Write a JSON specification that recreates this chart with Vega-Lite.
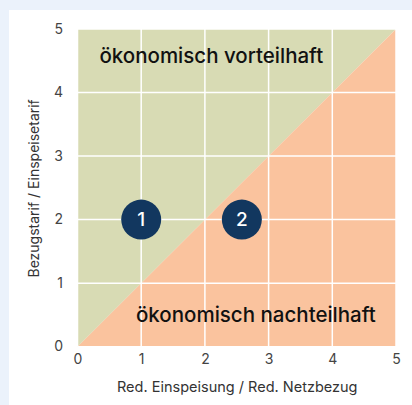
{
  "$schema": "https://vega.github.io/schema/vega-lite/v6.json",
  "autosize": "none",
  "width": 318.5,
  "height": 317.7,
  "padding": {"left": 77.5, "top": 29, "right": 16, "bottom": 58.3},
  "background": "#ebf2fb",
  "config": {"view": {"stroke": null}, "font": "Inter"},
  "datasets": {
    "regions": [
      {"x": 0, "diag": 0, "top": 5, "bottom": 0},
      {"x": 5, "diag": 5, "top": 5, "bottom": 0}
    ],
    "grid": [{"v": 0}, {"v": 1}, {"v": 2}, {"v": 3}, {"v": 4}, {"v": 5}],
    "labels": [
      {"x": 2.1, "y": 4.56, "text": "ökonomisch vorteilhaft"},
      {"x": 2.8, "y": 0.49, "text": "ökonomisch nachteilhaft"}
    ],
    "points": [
      {"x": 1, "y": 2, "id": "1"},
      {"x": 2.58, "y": 2, "id": "2"}
    ],
    "card": [{"x1": -1.075, "x2": 5.3, "y1": -1.0, "y2": 5.3}]
  },
  "layer": [
    {
      "data": {"name": "card"},
      "mark": {"type": "rect", "fill": "white", "clip": false},
      "encoding": {
        "x": {
          "field": "x1", "type": "quantitative",
          "scale": {"domain": [0, 5], "zero": false, "nice": false},
          "axis": {
            "title": "Red. Einspeisung / Red. Netzbezug",
            "values": [0, 1, 2, 3, 4, 5], "format": "d", "zindex": 1,
            "grid": false, "domain": false, "ticks": false, "labelFlush": false,
            "labelFontSize": 14, "labelColor": "#444", "labelPadding": 6,
            "titleFontSize": 14.5, "titleFontWeight": "normal", "titleColor": "#333", "titlePadding": 14
          }
        },
        "x2": {"field": "x2"},
        "y": {
          "field": "y1", "type": "quantitative",
          "scale": {"domain": [0, 5], "zero": false, "nice": false},
          "axis": {
            "title": "Bezugstarif / Einspeisetarif",
            "values": [0, 1, 2, 3, 4, 5], "format": "d", "zindex": 1,
            "grid": false, "domain": false, "ticks": false, "labelFlush": false,
            "labelFontSize": 14, "labelColor": "#444", "labelPadding": 15,
            "titleFontSize": 14, "titleFontWeight": "normal", "titleColor": "#333", "titlePadding": 12
          }
        },
        "y2": {"field": "y2"}
      }
    },
    {
      "data": {"name": "regions"},
      "mark": {"type": "area", "fill": "#d8dbb4", "opacity": 1},
      "encoding": {
        "x": {"field": "x", "type": "quantitative"},
        "y": {"field": "diag", "type": "quantitative"},
        "y2": {"field": "top"}
      }
    },
    {
      "data": {"name": "regions"},
      "mark": {"type": "area", "fill": "#fac39e", "opacity": 1},
      "encoding": {
        "x": {"field": "x", "type": "quantitative"},
        "y": {"field": "diag", "type": "quantitative"},
        "y2": {"field": "bottom"}
      }
    },
    {
      "data": {"name": "grid"},
      "mark": {"type": "rule", "color": "white", "strokeWidth": 1.5},
      "encoding": {"x": {"field": "v", "type": "quantitative"}}
    },
    {
      "data": {"name": "grid"},
      "mark": {"type": "rule", "color": "white", "strokeWidth": 1.5},
      "encoding": {"y": {"field": "v", "type": "quantitative"}}
    },
    {
      "data": {"name": "points"},
      "mark": {"type": "circle", "size": 1600, "color": "#12375f", "opacity": 1},
      "encoding": {
        "x": {"field": "x", "type": "quantitative"},
        "y": {"field": "y", "type": "quantitative"}
      }
    },
    {
      "data": {"name": "points"},
      "mark": {"type": "text", "color": "white", "fontSize": 19, "fontWeight": 500, "baseline": "middle", "align": "center"},
      "encoding": {
        "x": {"field": "x", "type": "quantitative"},
        "y": {"field": "y", "type": "quantitative"},
        "text": {"field": "id"}
      }
    },
    {
      "data": {"name": "labels"},
      "mark": {"type": "text", "color": "#111", "fontSize": 20.5, "fontWeight": 500, "baseline": "middle", "align": "center"},
      "encoding": {
        "x": {"field": "x", "type": "quantitative"},
        "y": {"field": "y", "type": "quantitative"},
        "text": {"field": "text"}
      }
    }
  ]
}
